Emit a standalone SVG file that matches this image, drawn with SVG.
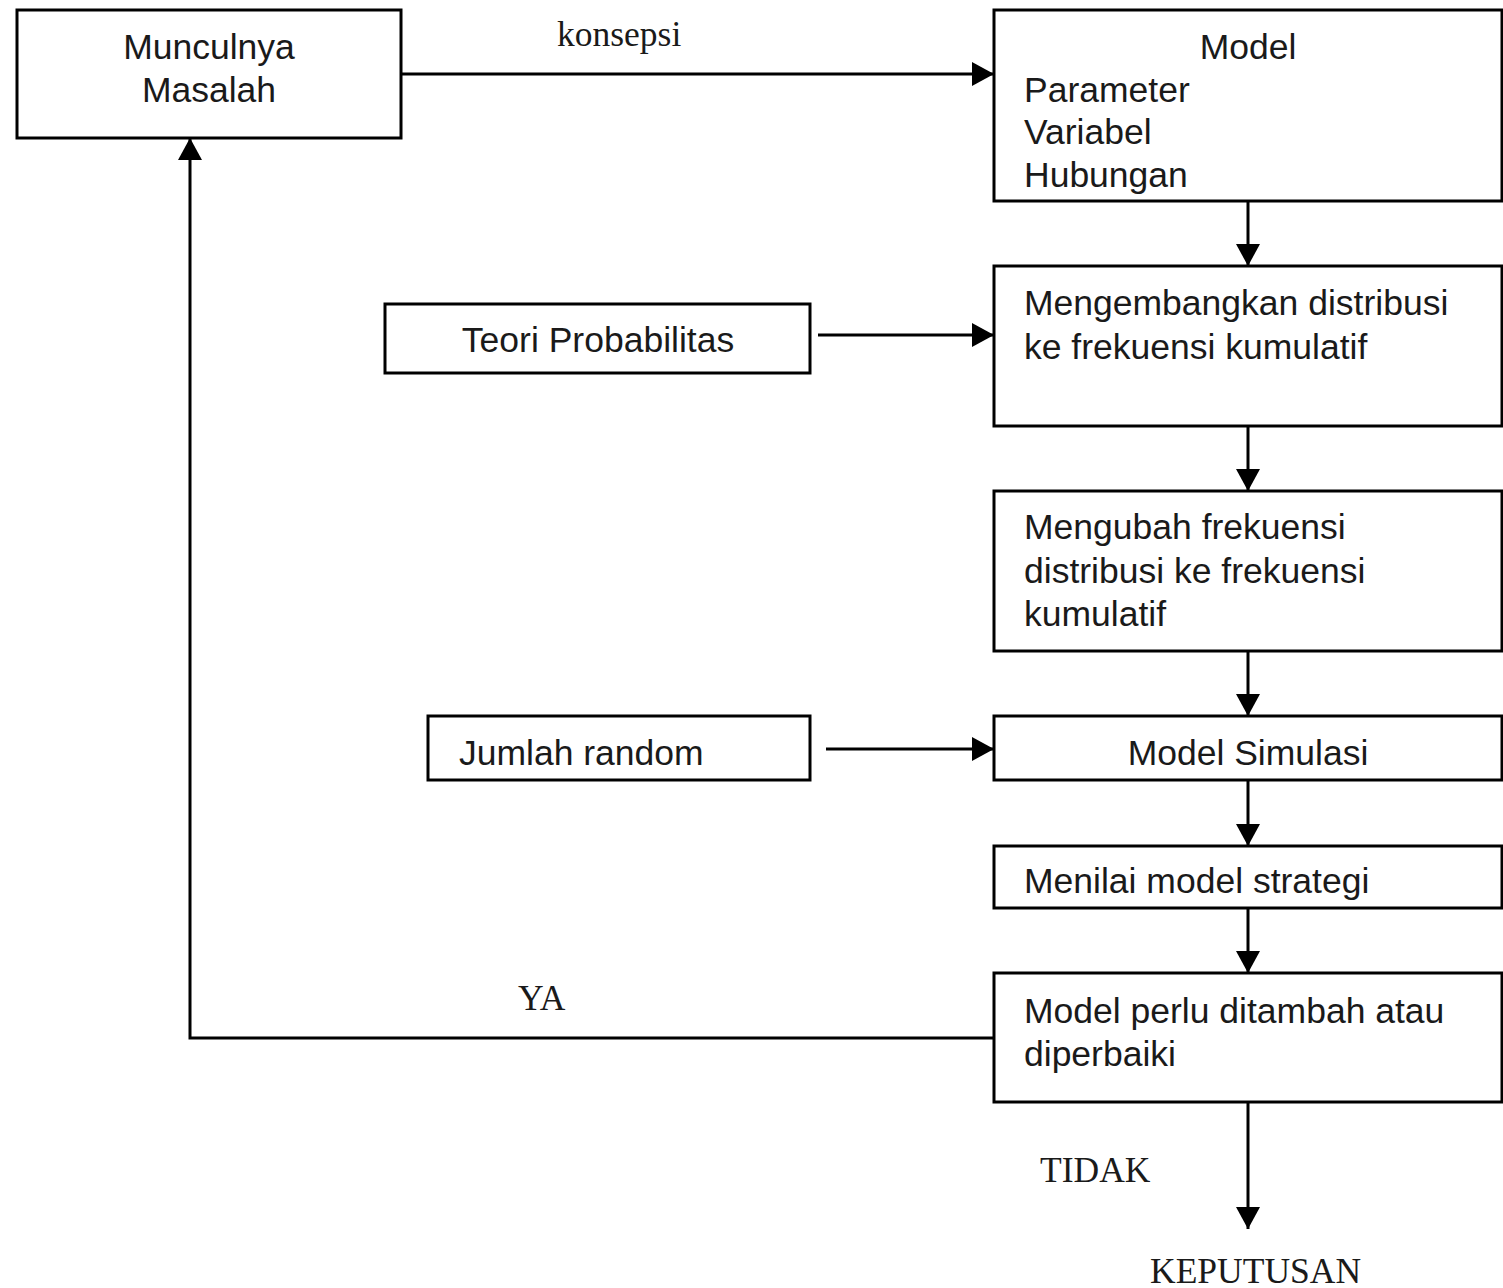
<svg xmlns="http://www.w3.org/2000/svg" width="1503" height="1288" viewBox="0 0 1503 1288">
<style>
.box{fill:#fff;stroke:#000;stroke-width:3}
.t{font-family:"Liberation Sans",Arial,sans-serif;font-size:35.5px;fill:#1a1a1a}
.c{text-anchor:middle}
.s{font-family:"Liberation Serif","Times New Roman",serif;font-size:35.5px;fill:#1a1a1a}
.ln{fill:none;stroke:#000;stroke-width:3}
</style>
<defs>
<marker id="ah" viewBox="0 0 22 24" refX="22" refY="12" markerWidth="22" markerHeight="24" markerUnits="userSpaceOnUse" orient="auto">
<path d="M0,0 L22,12 L0,24 Z" fill="#000"/>
</marker>
</defs>
<rect width="1503" height="1288" fill="#fff"/>
<g id="connectors">
<line class="ln" x1="401" y1="74" x2="994" y2="74" marker-end="url(#ah)"/>
<line class="ln" x1="1248" y1="201" x2="1248" y2="266" marker-end="url(#ah)"/>
<line class="ln" x1="818" y1="335" x2="994" y2="335" marker-end="url(#ah)"/>
<line class="ln" x1="1248" y1="426" x2="1248" y2="491" marker-end="url(#ah)"/>
<line class="ln" x1="1248" y1="651" x2="1248" y2="716" marker-end="url(#ah)"/>
<line class="ln" x1="826" y1="749" x2="994" y2="749" marker-end="url(#ah)"/>
<line class="ln" x1="1248" y1="780" x2="1248" y2="846" marker-end="url(#ah)"/>
<line class="ln" x1="1248" y1="908" x2="1248" y2="973" marker-end="url(#ah)"/>
<polyline class="ln" points="994,1038 190,1038 190,138" marker-end="url(#ah)"/>
<line class="ln" x1="1248" y1="1102" x2="1248" y2="1229" marker-end="url(#ah)"/>
<text class="s" x="557" y="46">konsepsi</text>
<text class="s" x="518" y="1010">YA</text>
<text class="s" x="1040" y="1182">TIDAK</text>
<text class="s" x="1150" y="1283">KEPUTUSAN</text>
</g>
<g id="munculnya">
<rect class="box" x="17" y="10" width="384" height="128"/>
<text class="t c" x="209" y="59">Munculnya</text>
<text class="t c" x="209" y="102">Masalah</text>
</g>
<g id="model">
<rect class="box" x="994" y="10" width="508" height="191"/>
<text class="t c" x="1248" y="59">Model</text>
<text class="t" x="1024" y="102">Parameter</text>
<text class="t" x="1024" y="144">Variabel</text>
<text class="t" x="1024" y="187">Hubungan</text>
</g>
<g id="teori">
<rect class="box" x="385" y="304" width="425" height="69"/>
<text class="t c" x="598" y="352">Teori Probabilitas</text>
</g>
<g id="mengembangkan">
<rect class="box" x="994" y="266" width="508" height="160"/>
<text class="t" x="1024" y="315">Mengembangkan distribusi</text>
<text class="t" x="1024" y="359">ke frekuensi kumulatif</text>
</g>
<g id="mengubah">
<rect class="box" x="994" y="491" width="508" height="160"/>
<text class="t" x="1024" y="539">Mengubah frekuensi</text>
<text class="t" x="1024" y="583">distribusi ke frekuensi</text>
<text class="t" x="1024" y="626">kumulatif</text>
</g>
<g id="jumlah">
<rect class="box" x="428" y="716" width="382" height="64"/>
<text class="t" x="459" y="765">Jumlah random</text>
</g>
<g id="simulasi">
<rect class="box" x="994" y="716" width="508" height="64"/>
<text class="t c" x="1248" y="765">Model Simulasi</text>
</g>
<g id="menilai">
<rect class="box" x="994" y="846" width="508" height="62"/>
<text class="t" x="1024" y="893">Menilai  model strategi</text>
</g>
<g id="perlu">
<rect class="box" x="994" y="973" width="508" height="129"/>
<text class="t" x="1024" y="1023">Model perlu ditambah atau</text>
<text class="t" x="1024" y="1066">diperbaiki</text>
</g>
</svg>
